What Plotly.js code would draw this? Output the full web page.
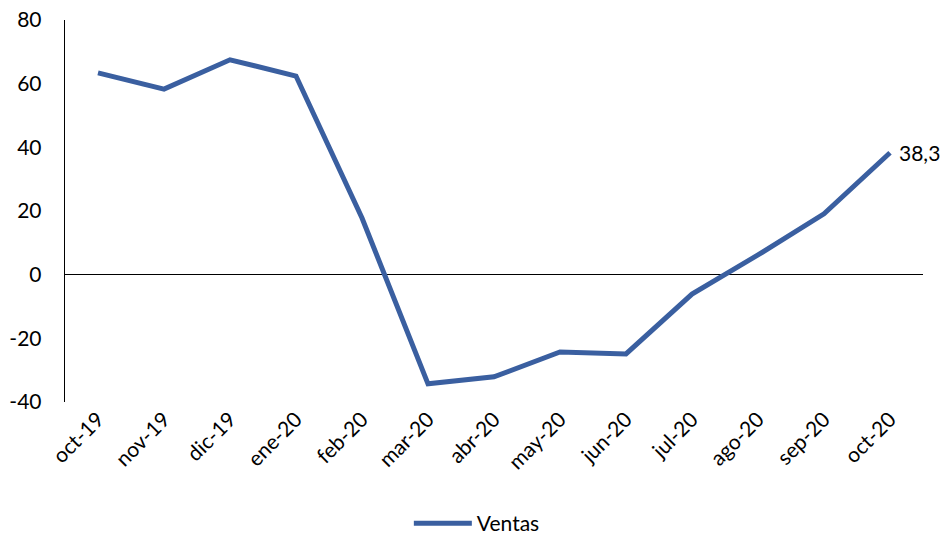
<!DOCTYPE html>
<html>
<head>
<meta charset="utf-8">
<script src="https://cdn.plot.ly/plotly-3.0.1.min.js"></script>
<style>html,body{margin:0;padding:0;background:#fff;}#chart{width:948px;height:538px;}</style>
</head>
<body>
<div id="chart"></div>
<script>
const categories = ["oct-19","nov-19","dic-19","ene-20","feb-20","mar-20","abr-20","may-20","jun-20","jul-20","ago-20","sep-20","oct-20"];
const ventas = [63.4, 58.3, 67.5, 62.4, 17.8, -34.3, -32.1, -24.3, -24.9, -6.1, 6.2, 19.1, 38.3];
const yTicks = [-40, -20, 0, 20, 40, 60, 80];
const lastLabel = "38,3";

const font = "Lato, 'Open Sans', sans-serif";
const trace = {
  x: categories,
  y: ventas,
  type: "scatter",
  mode: "lines",
  name: "Ventas",
  line: {color: "#3A5FA0", width: 5},
  hoverinfo: "skip"
};
const layout = {
  width: 948, height: 538,
  margin: {l: 65, r: 25, t: 20, b: 136, autoexpand: false},
  paper_bgcolor: "#fff", plot_bgcolor: "#fff",
  font: {family: font, size: 21, color: "#000"},
  showlegend: true,
  legend: {orientation: "h", x: 0.48, xanchor: "center", y: -0.372, yanchor: "bottom",
           itemwidth: 58,
           font: {family: font, size: 21, color: "#000"}},
  xaxis: {
    type: "category", range: [-0.5, 12.5], automargin: false,
    showgrid: false, zeroline: false, showline: false, ticks: "",
    tickangle: -45, tickfont: {family: font, size: 21, color: "#000"},
    fixedrange: true
  },
  yaxis: {
    range: [-40, 80], tickvals: yTicks, ticktext: yTicks.map(String), automargin: false,
    showgrid: false, zeroline: true, zerolinecolor: "#000", zerolinewidth: 1.5,
    showline: true, linecolor: "#000", linewidth: 1.3, ticks: "",
    ticklabelstandoff: 18,
    tickfont: {family: font, size: 21, color: "#000"},
    fixedrange: true
  },
  annotations: [{
    x: categories[categories.length - 1], y: ventas[ventas.length - 1],
    xref: "x", yref: "y", text: lastLabel, showarrow: false,
    xanchor: "left", yanchor: "middle", xshift: 7,
    font: {family: font, size: 21, color: "#000"}
  }]
};
Plotly.newPlot("chart", [trace], layout, {displayModeBar: false, staticPlot: true});
</script>
</body>
</html>
